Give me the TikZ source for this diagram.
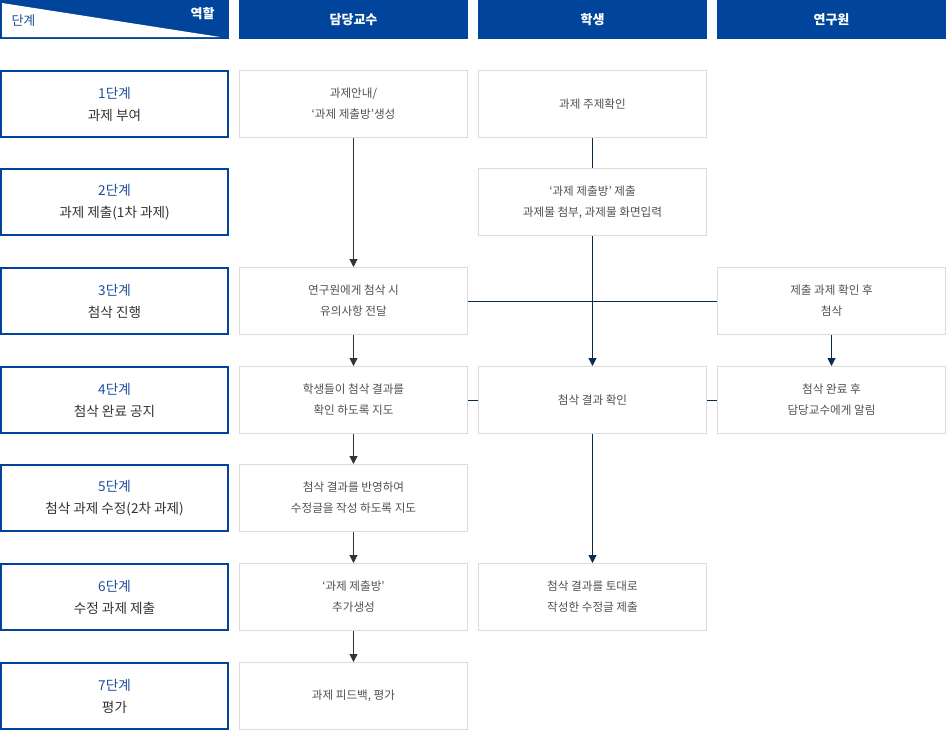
\documentclass[tikz,border=0pt]{standalone}
\usepackage{fontspec}
\setmainfont{Noto Sans CJK KR}
\usetikzlibrary{arrows.meta}
\definecolor{hdblue}{RGB}{0,69,155}
\definecolor{stepblue}{RGB}{29,78,158}
\definecolor{darktext}{RGB}{51,51,51}
\definecolor{textgray}{RGB}{80,80,80}
\definecolor{boxline}{RGB}{220,220,220}
\definecolor{navyline}{RGB}{12,42,77}
\definecolor{grayline}{RGB}{51,51,51}
\tikzset{
  head/.style={fill=hdblue, text=white, font=\fontsize{13}{15}\selectfont\bfseries,
    minimum width=229pt, minimum height=39pt, inner sep=0pt},
  stepbox/.style={draw=hdblue, line width=2pt, minimum width=227pt, minimum height=66pt,
    align=center, text=darktext, font=\fontsize{13.6}{22}\selectfont},
  task/.style={draw=boxline, line width=1pt, minimum width=228pt, minimum height=67pt,
    align=center, text=textgray, font=\fontsize{11.6}{21}\selectfont},
  flow/.style={draw=grayline, line width=1pt, -{Triangle[width=8pt,length=8pt]}},
  link/.style={draw=navyline, line width=1pt},
  linkflow/.style={link, -{Triangle[width=8pt,length=8pt]}},
}
\begin{document}
\begin{tikzpicture}[x=1pt,y=-1pt]
\useasboundingbox (0,0) rectangle (946,731);

% header row
\fill[hdblue] (0,0) rectangle (229,39);
\fill[white] (2,3) -- (2,37) -- (220,37) -- cycle;
\node(StepLbl)[text=stepblue, font=\fontsize{13}{15}\selectfont, anchor=west] at (8,21){단계};
\node(RoleLbl)[text=white, font=\fontsize{13}{15}\selectfont\bfseries, anchor=east] at (218,14){역할};
\node(HProf)[head] at (353.5,19.5){담당교수};
\node(HStu)[head] at (592.5,19.5){학생};
\node(HRes)[head] at (831.5,19.5){연구원};

% steps
\node(S1)[stepbox] at (114.5,104){\textcolor{stepblue}{1단계}\\과제 부여};
\node(S2)[stepbox] at (114.5,202){\textcolor{stepblue}{2단계}\\과제 제출(1차 과제)};
\node(S3)[stepbox] at (114.5,301){\textcolor{stepblue}{3단계}\\첨삭 진행};
\node(S4)[stepbox] at (114.5,400){\textcolor{stepblue}{4단계}\\첨삭 완료 공지};
\node(S5)[stepbox] at (114.5,498){\textcolor{stepblue}{5단계}\\첨삭 과제 수정(2차 과제)};
\node(S6)[stepbox] at (114.5,597){\textcolor{stepblue}{6단계}\\수정 과제 제출};
\node(S7)[stepbox] at (114.5,696){\textcolor{stepblue}{7단계}\\평가};

% 담당교수
\node(Prof1)[task] at (353.5,104){과제안내/\\‘과제 제출방’생성};
\node(Prof3)[task] at (353.5,301){연구원에게 첨삭 시\\유의사항 전달};
\node(Prof4)[task] at (353.5,400){학생들이 첨삭 결과를\\확인 하도록 지도};
\node(Prof5)[task] at (353.5,498){첨삭 결과를 반영하여\\수정글을 작성 하도록 지도};
\node(Prof6)[task] at (353.5,597){‘과제 제출방’\\추가생성};
\node(Prof7)[task] at (353.5,696){과제 피드백, 평가};

% 학생
\node(Stu1)[task] at (592.5,104){과제 주제확인};
\node(Stu2)[task] at (592.5,202){‘과제 제출방’ 제출\\과제물 첨부, 과제물 화면입력};
\node(Stu4)[task] at (592.5,400){첨삭 결과 확인};
\node(Stu6)[task] at (592.5,597){첨삭 결과를 토대로\\작성한 수정글 제출};

% 연구원
\node(Res3)[task] at (831.5,301){제출 과제 확인 후\\첨삭};
\node(Res4)[task] at (831.5,400){첨삭 완료 후\\담당교수에게 알림};

\draw[flow] (Prof1.south) -- (Prof3.north);
\draw[flow] (Prof3.south) -- (Prof4.north);
\draw[flow] (Prof4.south) -- (Prof5.north);
\draw[flow] (Prof5.south) -- (Prof6.north);
\draw[flow] (Prof6.south) -- (Prof7.north);

\draw[link] (Stu1.south) -- (Stu2.north);
\draw[linkflow] (Stu2.south) -- (Stu4.north);
\draw[linkflow] (Stu4.south) -- (Stu6.north);
\draw[link] (Prof3.east) -- (Res3.west);
\draw[linkflow] (Res3.south) -- (Res4.north);
\draw[link] (Prof4.east) -- (Stu4.west);
\draw[link] (Stu4.east) -- (Res4.west);
\end{tikzpicture}
\end{document}
